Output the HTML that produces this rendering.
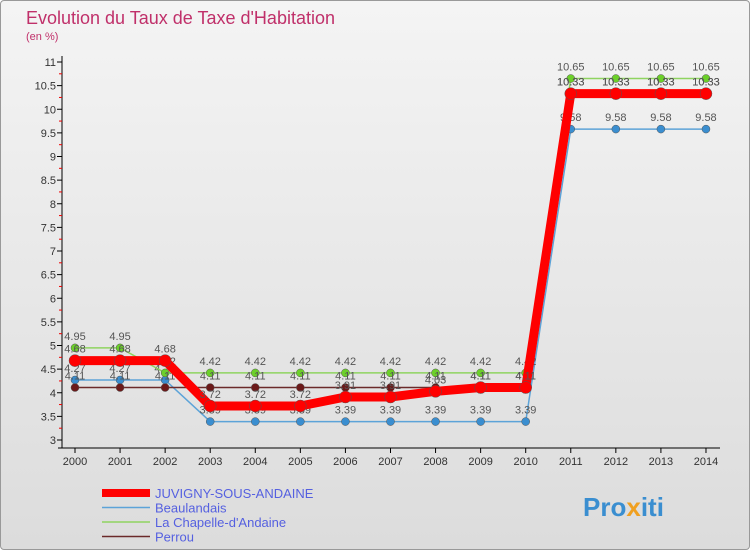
<!DOCTYPE html>
<html><head><meta charset="utf-8"><style>
body{margin:0;width:750px;height:550px;overflow:hidden;font-family:"Liberation Sans",sans-serif}
#wrap{position:relative;width:748px;height:548px;border:1px solid #999;background:linear-gradient(#f4f4f4,#dcdcdc);border-radius:4px}
</style></head><body>
<div id="wrap">
<svg id="c" width="750" height="550" style="position:absolute;left:-1px;top:-1px">
<text x="26" y="24" font-size="18" fill="#c0306a" font-weight="300">Evolution du Taux de Taxe d'Habitation</text>
<text x="26" y="40" font-size="11" fill="#c0306a">(en %)</text>
<text x="583" y="516" font-size="26" font-weight="bold" fill="#3a8ed0">Pro<tspan fill="#f0a020">x</tspan>iti</text>
</svg>
</div>
<script>
const years=[2000,2001,2002,2003,2004,2005,2006,2007,2008,2009,2010,2011,2012,2013,2014];
const yTicks=[3,3.5,4,4.5,5,5.5,6,6.5,7,7.5,8,8.5,9,9.5,10,10.5,11];
const juvigny=[4.68,4.68,4.68,3.72,3.72,3.72,3.91,3.91,4.03,4.11,4.11,10.33,10.33,10.33,10.33];
const beaulandais=[4.27,4.27,4.27,3.39,3.39,3.39,3.39,3.39,3.39,3.39,3.39,9.58,9.58,9.58,9.58];
const chapelle=[4.95,4.95,4.42,4.42,4.42,4.42,4.42,4.42,4.42,4.42,4.42,10.65,10.65,10.65,10.65];
const perrou=[4.11,4.11,4.11,4.11,4.11,4.11,4.11,4.11,4.11,4.11,4.11,10.33,10.33,10.33,10.33];
const seriesNames=["JUVIGNY-SOUS-ANDAINE","Beaulandais","La Chapelle-d'Andaine","Perrou"];
const svg=document.getElementById('c');const NS='http://www.w3.org/2000/svg';
const X=i=>75+i*45.07, Y=v=>440-(v-3)*47.25;
function el(t,a){const e=document.createElementNS(NS,t);for(const k in a)e.setAttribute(k,a[k]);svg.appendChild(e);return e;}
let e=el('line',{x1:62,y1:56,x2:62,y2:448,stroke:'#000'});


e=el('line',{x1:58,y1:448,x2:720,y2:448,stroke:'#000'});


yTicks.forEach(v=>{
 let t=el('line',{x1:57,y1:Y(v),x2:62,y2:Y(v),stroke:'#000'});
 
 
 if(v<11){let m=el('line',{x1:59,y1:Y(v+0.25),x2:62,y2:Y(v+0.25),stroke:'#e00'});
 
 }
 let l=el('text',{x:56,y:Y(v)+4,'font-size':11,'text-anchor':'end',fill:'#333'});l.textContent=String(v);
 
 
});
years.forEach((y,i)=>{
 let t=el('line',{x1:X(i),y1:448,x2:X(i),y2:453,stroke:'#000'});
 
 
 let l=el('text',{x:X(i),y:465,'font-size':11,'text-anchor':'middle',fill:'#333'});l.textContent=y;
 
 
});
function series(d,col,w,r,ptCol,name){
 let p=el('polyline',{points:d.map((v,i)=>X(i)+','+Y(v)).join(' '),fill:'none',stroke:col,'stroke-width':w,'stroke-linejoin':'round'});
 
 
 d.forEach((v,i)=>{let c=el('circle',{cx:X(i),cy:Y(v),r:r,fill:ptCol,stroke:'#555','stroke-width':0.5});
 
 
 let l=el('text',{x:X(i),y:Y(v)-8,'font-size':11,'text-anchor':'middle',fill:'#555'});l.textContent=v;
 
 });
}
series(beaulandais,'#5ca3d8',1.5,4,'#3a8ed0','beaulandais');
series(chapelle,'#8fd460',1.5,4,'#6cd02a','chapelle');
series(perrou,'#6b2a2a',1.5,4,'#6b1a1a','perrou');
series(juvigny,'#ff0000',9,6,'#ff0000','juvigny');
const legCols=['#ff0000','#5ca3d8','#8fd460','#6b2a2a'],legW=[8,1.5,1.5,1.5];
seriesNames.forEach((n,i)=>{const y=493+i*14.5;
 let l=el('line',{x1:102,y1:y,x2:150,y2:y,stroke:legCols[i],'stroke-width':legW[i]});
 
 
 let t=el('text',{x:155,y:y+5,'font-size':13,fill:'#5560e0'});t.textContent=n;
 
 
});
</script>
</body></html>
